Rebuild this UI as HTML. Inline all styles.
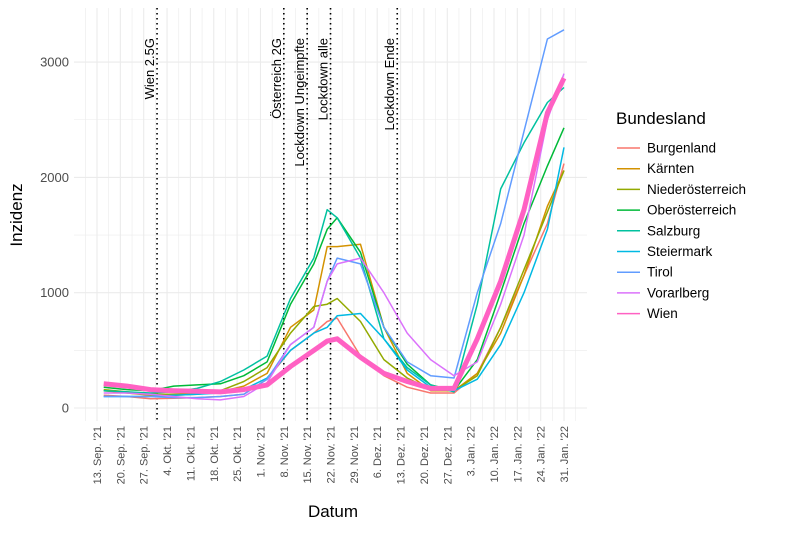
<!DOCTYPE html>
<html><head><meta charset="utf-8"><style>
body{margin:0;background:#fff;}
svg{font-family:"Liberation Sans",sans-serif;}
</style></head><body>
<svg id="chart" width="800" height="533" viewBox="0 0 800 533">
<g id="grid"></g>
<g id="vlines"></g>
<g id="series"></g>
<g id="axes"></g>
<text x="22" y="215" font-size="17" fill="#000" text-anchor="middle" transform="rotate(-90 22 215)">Inzidenz</text>
<text x="333" y="517" font-size="17" fill="#000" text-anchor="middle">Datum</text>
<g id="legend">
<text x="616" y="124" font-size="17" fill="#000">Bundesland</text>
</g>
</svg>
<script>
const days = [2,9,16,23,30,37,44,51,58,65,69,72,79,86,93,100,107,114,121,128,135,140];
const names = ["Burgenland","Kärnten","Niederösterreich","Oberösterreich","Salzburg","Steiermark","Tirol","Vorarlberg","Wien"];
const colors = ["#F8766D","#D39200","#93AA00","#00BA38","#00C19F","#00B9E3","#619CFF","#DB72FB","#FF61C3"];
const burgenland = [110,100,80,85,90,100,120,250,500,650,750,780,450,280,180,130,130,300,700,1150,1600,2120];
const kaernten   = [150,130,110,110,120,140,190,300,700,850,1400,1400,1420,700,300,150,150,300,650,1150,1750,2060];
const noe        = [160,140,120,120,130,150,230,350,650,880,900,950,750,420,260,160,150,280,700,1200,1700,2060];
const ooe        = [180,160,150,190,200,210,280,400,900,1250,1550,1650,1350,700,380,200,150,420,1000,1600,2100,2430];
const salzburg   = [150,140,130,140,170,230,330,450,950,1300,1720,1650,1300,600,350,200,140,900,1900,2300,2650,2780];
const steiermark = [100,100,100,110,120,130,160,260,500,650,700,800,820,600,330,180,150,250,550,1000,1550,2260];
const tirol      = [100,100,100,90,90,100,120,250,550,700,1100,1300,1250,700,400,280,260,1000,1600,2400,3200,3280];
const vorarlberg = [130,130,120,100,80,70,100,220,550,700,1100,1250,1300,1000,650,420,280,400,900,1500,2500,2900];
const wien       = [210,190,160,150,145,140,160,200,360,500,580,600,440,300,230,170,170,600,1100,1720,2560,2860];
const seriesValues = [burgenland,kaernten,noe,ooe,salzburg,steiermark,tirol,vorarlberg,wien];
const tickLabels = ["13. Sep. '21","20. Sep. '21","27. Sep. '21","4. Okt. '21","11. Okt. '21","18. Okt. '21","25. Okt. '21","1. Nov. '21","8. Nov. '21","15. Nov. '21","22. Nov. '21","29. Nov. '21","6. Dez. '21","13. Dez. '21","20. Dez. '21","27. Dez. '21","3. Jan. '22","10. Jan. '22","17. Jan. '22","24. Jan. '22","31. Jan. '22"];
const yTicks = [0,1000,2000,3000];
const eventDays = [18,56,63,70,90];
const eventLabels = ["Wien 2.5G","Österreich 2G","Lockdown Ungeimpfte","Lockdown alle","Lockdown Ende"];

const X = d => 97 + d * 3.336;
const Y = v => 408 - v * 0.1153;
const NS = "http://www.w3.org/2000/svg";
function mk(tag, parent){const e=document.createElementNS(NS,tag);parent.appendChild(e);return e;}
const grid=document.getElementById('grid');
const PX0=74,PX1=587,PY0=8,PY1=421;
for(let i=-0.5;i<=20.6;i+=0.5){
  const x=X(i*7); if(x<PX0||x>PX1) continue;
  const l=mk('line',grid);
  
  
  l.setAttribute('x1',x);l.setAttribute('x2',x);l.setAttribute('y1',PY0);l.setAttribute('y2',PY1);
  l.setAttribute('stroke','#ebebeb');l.setAttribute('stroke-width',Number.isInteger(i)?1.1:0.6);
}
for(let v=0;v<=3000;v+=500){
  const y=Y(v);
  const l=mk('line',grid);
  
  
  l.setAttribute('x1',PX0);l.setAttribute('x2',PX1);l.setAttribute('y1',y);l.setAttribute('y2',y);
  l.setAttribute('stroke','#ebebeb');l.setAttribute('stroke-width',v%1000===0?1.1:0.6);
}
const axes=document.getElementById('axes');
yTicks.forEach(v=>{
  const t=mk('text',axes);
  
  
  t.setAttribute('x',69);t.setAttribute('y',Y(v)+4.5);t.setAttribute('text-anchor','end');
  t.setAttribute('font-size','13');t.setAttribute('fill','#4d4d4d');t.textContent=v;
});
tickLabels.forEach((s,i)=>{
  const x=X(i*7)+4,y=426;
  const t=mk('text',axes);
  
  
  t.setAttribute('x',x);t.setAttribute('y',y);t.setAttribute('text-anchor','end');
  t.setAttribute('transform',`rotate(-90 ${x} ${y})`);
  t.setAttribute('font-size','11');t.setAttribute('fill','#4d4d4d');t.textContent=s;
});
const vl=document.getElementById('vlines');
eventDays.forEach((d,i)=>{
  const x=X(d);
  const l=mk('line',vl);
  
  
  l.setAttribute('x1',x);l.setAttribute('x2',x);l.setAttribute('y1',PY0);l.setAttribute('y2',PY1);
  l.setAttribute('stroke','#000');l.setAttribute('stroke-width',1.6);l.setAttribute('stroke-dasharray','1.5 3.5');
  const t=mk('text',vl);
  
  
  const tx=x-3,ty=38;
  t.setAttribute('x',tx);t.setAttribute('y',ty);t.setAttribute('text-anchor','end');
  t.setAttribute('transform',`rotate(-90 ${tx} ${ty})`);
  t.setAttribute('font-size','13');t.setAttribute('fill','#000');t.textContent=eventLabels[i];
});
const sg=document.getElementById('series');
seriesValues.forEach((vals,k)=>{
  const p=mk('polyline',sg);
  
  
  p.setAttribute('points',vals.map((v,i)=>X(days[i]).toFixed(1)+','+Y(v).toFixed(1)).join(' '));
  p.setAttribute('fill','none');p.setAttribute('stroke',colors[k]);
  p.setAttribute('stroke-width',k===8?5:1.5);p.setAttribute('stroke-linejoin','round');
});
const lg=document.getElementById('legend');
names.forEach((n,k)=>{
  const y=148+k*20.7;
  const l=mk('line',lg);
  
  
  l.setAttribute('x1',617);l.setAttribute('x2',640);l.setAttribute('y1',y);l.setAttribute('y2',y);
  l.setAttribute('stroke',colors[k]);l.setAttribute('stroke-width',1.5);
  const t=mk('text',lg);
  
  
  t.setAttribute('x',647);t.setAttribute('y',y+4.5);t.setAttribute('font-size','13.5');t.setAttribute('fill','#000');
  t.textContent=n;
});
</script>
</body></html>
